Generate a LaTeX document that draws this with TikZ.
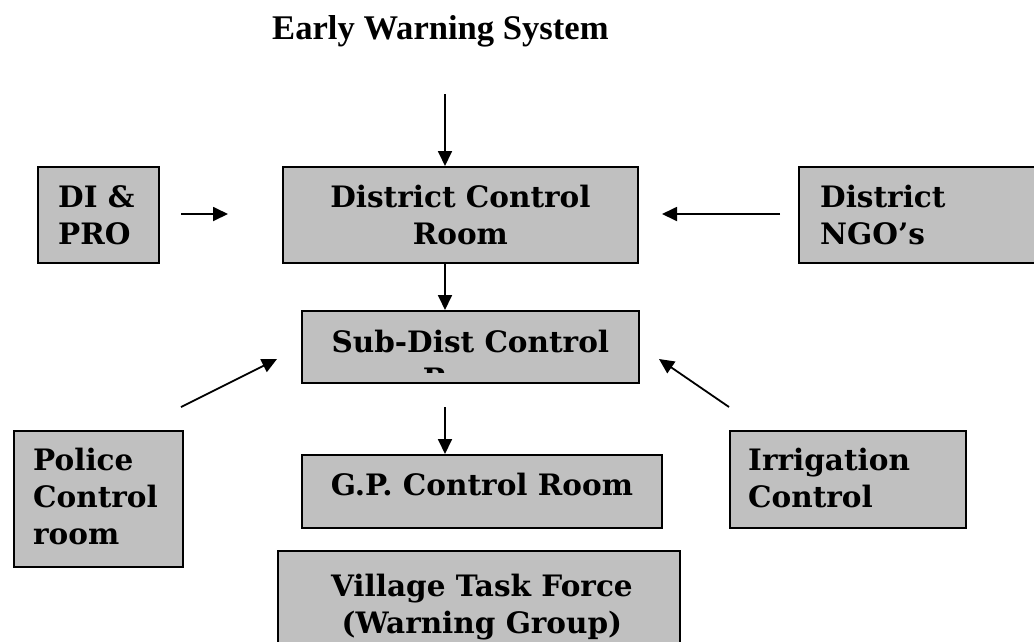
\documentclass[tikz,border=0pt]{standalone}
\usepackage{fontspec}
\usetikzlibrary{arrows.meta}
\newfontfamily\boxfont{DejaVu Serif}
\newfontfamily\titlefont{Liberation Serif}
\definecolor{boxgray}{HTML}{C0C0C0}
\tikzset{
  box/.style={draw, fill=boxgray, line width=1.8pt, anchor=north west, inner sep=0pt},
  lbl/.style={inner sep=0pt, font=\boxfont\bfseries\fontsize{29.5}{37}\selectfont},
  arr/.style={-{Triangle[length=15pt,width=14pt]}, line width=1.8pt}
}
\begin{document}
\begin{tikzpicture}[x=1pt,y=-1pt]
\useasboundingbox (0,0) rectangle (1034,641);
\node[inner sep=0pt, anchor=base west, font=\titlefont\bfseries\fontsize{34.6}{40}\selectfont] (title) at (272,39) {Early Warning System};
% boxes
\node[box, minimum width=121pt, minimum height=96pt] (di) at (37,166) {};
\node[box, minimum width=355pt, minimum height=96pt] (dcr) at (282,166) {};
\node[box, minimum width=245pt, minimum height=96pt] (ngo) at (798,166) {};
\node[box, minimum width=337pt, minimum height=72pt] (sub) at (301,310) {};
\node[box, minimum width=169pt, minimum height=136pt] (police) at (13,430) {};
\node[box, minimum width=360pt, minimum height=73pt] (gp) at (301,454) {};
\node[box, minimum width=236pt, minimum height=97pt] (irr) at (729,430) {};
\node[box, minimum width=402pt, minimum height=110pt] (village) at (277,550) {};
% texts
\node[lbl, anchor=north west, align=left] (ditext) at ([xshift=21pt,yshift=-15pt]di.north west) {\strut DI \&\\PRO};
\node[lbl, anchor=north, align=center] (dcrtext) at ([yshift=-15pt]dcr.north) {\strut District Control\\Room};
\node[lbl, anchor=north west, align=left] (ngotext) at ([xshift=22pt,yshift=-15pt]ngo.north west) {\strut District\\NGO’s};
\begin{scope}
\clip (sub.north west) rectangle ([yshift=11pt]sub.south east);
\node[lbl, anchor=north, align=center] (subtext) at ([yshift=-16pt]sub.north) {\strut Sub-Dist Control\\Room};
\end{scope}
\node[lbl, anchor=north west, align=left] (policetext) at ([xshift=20pt,yshift=-14pt]police.north west) {\strut Police\\Control\\room};
\node[lbl, anchor=north, align=center] (gptext) at ([yshift=-15pt]gp.north) {\strut G.P. Control Room};
\node[lbl, anchor=north west, align=left] (irrtext) at ([xshift=19pt,yshift=-14pt]irr.north west) {\strut Irrigation\\Control};
\node[lbl, anchor=north, align=center] (villagetext) at ([xshift=3pt,yshift=-20pt]village.north) {\strut Village Task Force\\(Warning Group)};
% arrows
\coordinate (ewin) at (445,94);
\coordinate (gpin) at (445,407);
\coordinate (dia) at (181,214);
\coordinate (dib) at (228,214);
\coordinate (ngoa) at (780,214);
\coordinate (ngob) at (662,214);
\coordinate (pola) at (181,407);
\coordinate (polb) at (277,359);
\coordinate (irra) at (729,407);
\coordinate (irrb) at (659,359);
\draw[arr] (ewin) -- (ewin |- dcr.north);
\draw[arr] (ewin |- dcr.south) -- (ewin |- sub.north);
\draw[arr] (gpin) -- (gpin |- gp.north);
\draw[arr] (dia) -- (dib);
\draw[arr] (ngoa) -- (ngob);
\draw[arr] (pola) -- (polb);
\draw[arr] (irra) -- (irrb);
\end{tikzpicture}
\end{document}
